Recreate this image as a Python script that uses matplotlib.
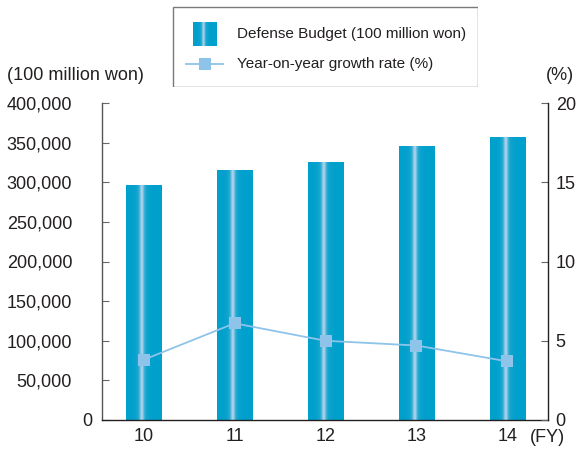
import numpy as np
import matplotlib
matplotlib.use('Agg')
import matplotlib.pyplot as plt
from matplotlib.lines import Line2D
from matplotlib.patches import Rectangle
from matplotlib.transforms import ScaledTranslation

# defense budget by fiscal year
years = ['10', '11', '12', '13', '14']
budget = [296000, 315000, 325500, 345500, 357000]   # 100 million won
growth = [3.8, 6.1, 5.0, 4.7, 3.7]                   # year-on-year, %

bar_blue = np.array([0, 160, 204]) / 255
stripe = np.array([178, 210, 234]) / 255
line_blue = '#8EC4EA'
ink = '#231F20'

plt.rcParams['font.family'] = ['Liberation Sans', 'DejaVu Sans']


def cylinder(n=200):
    # horizontal shading for the bars: flat blue with a soft pale highlight
    t = np.linspace(0, 1, n)
    w = 0.8*np.exp(-((t-0.44)/0.06)**2) + 0.2*np.exp(-((t-0.44)/0.16)**2)
    w = np.clip(w, 0, 1)[:, None]
    return (bar_blue*(1-w) + stripe*w)[None, :, :]


fig = plt.figure(figsize=(5.82, 4.5), dpi=100)
ax = fig.add_axes([102/582, 30/450, 446/582, 317/450])

x = np.arange(len(years))
bars = ax.bar(x, budget, 0.385, color=bar_blue, zorder=1)
grad = cylinder()
for b in bars:
    ax.imshow(grad, extent=(b.get_x(), b.get_x()+b.get_width(), 0, b.get_height()),
              aspect='auto', interpolation='bilinear', zorder=2)

ax.set_xlim(-0.457, 4.446)
ax.set_ylim(0, 400000)
ax.set_xticks(x)
ax.set_xticklabels(years)
ax.set_yticks(range(0, 400001, 50000))
ax.set_yticklabels(['{:,}'.format(v) for v in range(0, 400001, 50000)])

ax2 = ax.twinx()
ax2.plot(x, growth, color=line_blue, lw=1.3, marker='s', ms=8.6, mew=0, zorder=3)
ax2.set_ylim(0, 20)
ax2.set_yticks([0, 5, 10, 15, 20])

for a in (ax, ax2):
    a.spines['top'].set_visible(False)
ax.spines['right'].set_visible(False)
ax2.spines['left'].set_visible(False)
ax2.spines['bottom'].set_visible(False)
ax.spines['left'].set_color('#555555')
ax.spines['bottom'].set_color(ink)
ax2.spines['right'].set_color(ink)
for s in ('left', 'bottom'):
    ax.spines[s].set_linewidth(1.0)
ax2.spines['right'].set_linewidth(1.0)

ax.tick_params(axis='y', direction='in', length=5, width=0.8, color='#666666',
               pad=21.5, labelsize=13, labelcolor=ink)
ax.tick_params(axis='x', length=0, pad=6, labelsize=13, labelcolor=ink)
ax2.tick_params(axis='y', direction='in', length=5, width=0.8, color='#666666',
                pad=5.5, labelsize=13, labelcolor=ink)

# the zero label sits closer to the axis than the others
zero = ax.yaxis.get_major_ticks()[0].label1
zero.set_transform(zero.get_transform() + ScaledTranslation(0.2, 0, fig.dpi_scale_trans))

fig.text(7/582, 1-75/450, '(100 million won)', fontsize=13, color=ink, va='center', ha='left')
fig.text(560/582, 1-75/450, '(%)', fontsize=13, color=ink, va='center', ha='center')
fig.text(547/582, 1-437.5/450, '(FY)', fontsize=13, color=ink, va='center', ha='center')

# legend box
lg = fig.add_axes([172/582, 1-87/450, 306/582, 81/450])
lg.axis('off')
lg.add_patch(Rectangle((0.5, 0.5), 305, 80, fill=False, ec='#7A7A7A', lw=1.0))
lg.imshow(grad, extent=(20.7, 44.7, 40, 16), aspect='auto', interpolation='bilinear')
lg.add_line(Line2D([14, 51], [58, 58], color=line_blue, lw=1.3))
lg.add_line(Line2D([32.5], [58], color=line_blue, marker='s', ms=8.6, mew=0))
lg.text(65, 28, 'Defense Budget (100 million won)', fontsize=11, color=ink, va='center')
lg.text(65, 58, 'Year-on-year growth rate (%)', fontsize=11, color=ink, va='center')
lg.set_xlim(0, 306)
lg.set_ylim(81, 0)

fig.savefig('out.png', dpi=100)
